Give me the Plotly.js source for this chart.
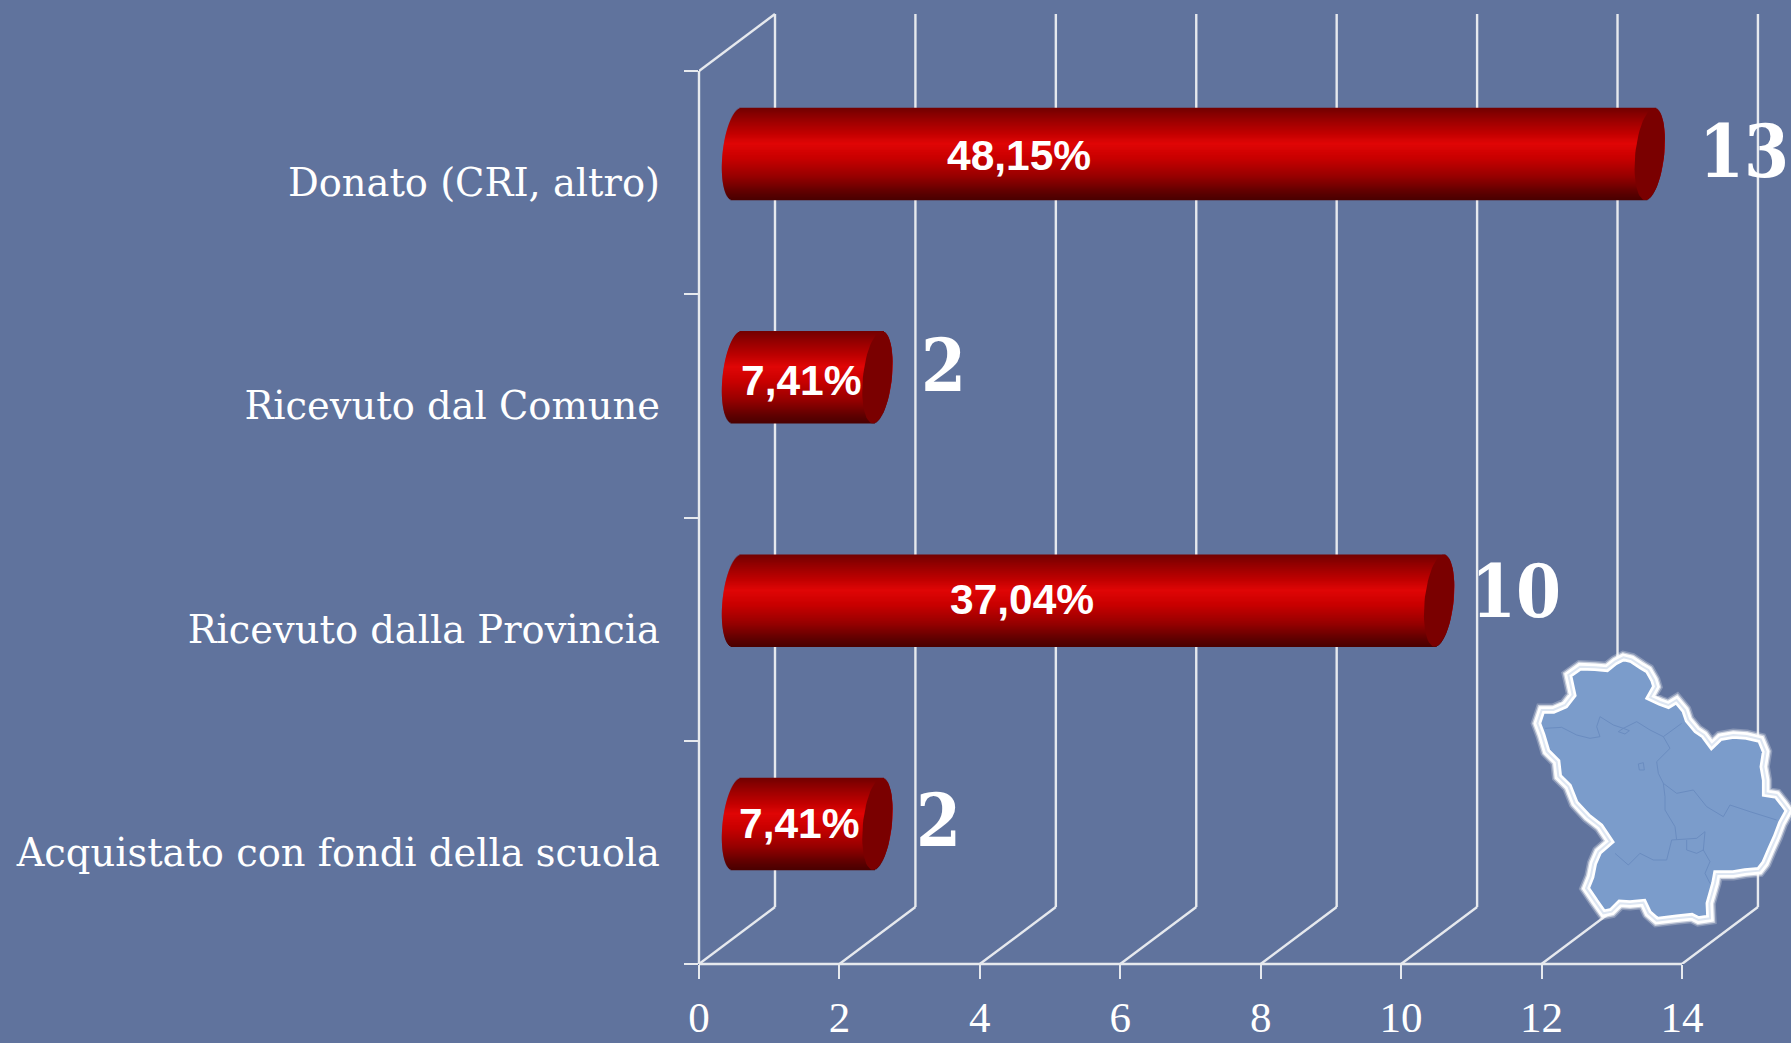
<!DOCTYPE html>
<html>
<head>
<meta charset="utf-8">
<script src="https://cdn.plot.ly/plotly-3.0.1.min.js"></script>
<style>html,body{margin:0;padding:0;background:#60739D;overflow:hidden}#chart{width:1791px;height:1043px}</style>
</head>
<body>
<div id="chart"></div>
<script>
// ---- data ----
const categories = ["Acquistato con fondi della scuola", "Ricevuto dalla Provincia", "Ricevuto dal Comune", "Donato (CRI, altro)"];
const counts = [2, 10, 2, 13];
const percents = ["7,41%", "37,04%", "7,41%", "48,15%"];
const xTicks = [0, 2, 4, 6, 8, 10, 12, 14];

// ---- label placement (pixels relative to the bar) ----
const countShiftX = [61, 77, 66, 94];
const countShiftY = [3, 9, 12, 3];
const pctX = [799, 1021.5, 801, 1019];
const pctShiftY = [0, 1, -3, -1];

// ---- geometry ----
const W = 1791, H = 1043;
const plotL = 699, plotR = 1768, plotT = 6, plotB = 964;
const pxX = 70.21, pxY = 223.25;
const depthX = 76 / pxX, depthY = 57 / pxY;
const xMax = (plotR - plotL) / pxX, yMax = (plotB - plotT) / pxY;
const barPx = 92, rx = 14.5, shear = 4.5;
const LINE = "#E6E9EE", TEXT = "#FFFFFF";
const gradStops = [[0,[0x72,0,0]],[0.12,[0x96,0,0]],[0.26,[0xBC,0,0]],[0.39,[0xE0,6,6]],[0.55,[0xC8,0,0]],[0.75,[0x96,0,0]],[0.92,[0x5E,0,0]],[1,[0x4A,0,0]]];

function gradAt(t){
  for(let i=1;i<gradStops.length;i++){
    if(t<=gradStops[i][0]){
      const a=gradStops[i-1],b=gradStops[i],f=(t-a[0])/(b[0]-a[0]);
      return "rgb("+a[1].map((c,k)=>Math.round(c+(b[1][k]-c)*f)).join(",")+")";
    }
  }
  return "rgb(74,0,0)";
}

const traces = [];
const barX0 = depthX / 2;
const barY = i => i + 0.5 + depthY / 2;

// cylinder bodies: one thin horizontal bar trace per shaded stripe
for(let s=0;s<barPx;s++){
  const t=(s+0.5)/barPx, u=1-2*t, r=Math.sqrt(1-u*u);
  const left=(-rx*r+shear*u)/pxX, right=(rx*r+shear*u)/pxX;
  traces.push({
    type:"bar", orientation:"h",
    x:counts.map(v=>v+right-left),
    base:counts.map(()=>barX0+left),
    y:counts.map((v,i)=>barY(i)+u*(barPx/2)/pxY),
    width:1.5/pxY,
    marker:{color:gradAt(t),line:{width:0}},
    hoverinfo:"skip",showlegend:false
  });
}
// cylinder end caps
counts.forEach((v,i)=>{
  const xs=[],ys=[];
  for(let a=0;a<=72;a++){
    const th=a/72*2*Math.PI, c=Math.cos(th), n=Math.sin(th);
    xs.push(v+barX0+(rx*c+shear*n)/pxX);
    ys.push(barY(i)+(barPx/2)*n/pxY);
  }
  traces.push({type:"scatter",mode:"lines",x:xs,y:ys,fill:"toself",fillcolor:"#7A0000",line:{width:0,color:"#7A0000"},hoverinfo:"skip",showlegend:false});
});
// carrier for the boundary tick axis
traces.push({type:"scatter",mode:"none",x:[0],y:[0],yaxis:"y2",hoverinfo:"skip",showlegend:false});

// ---- wall lines ----
const shapes = [];
const LW = 2.4;
const seg=(x0,y0,x1,y1)=>shapes.push({type:"line",xref:"x",yref:"y",x0,y0,x1,y1,layer:"below",line:{color:LINE,width:LW}});
xTicks.forEach(v=>{
  seg(v,0,v+depthX,depthY);
  seg(v+depthX,depthY,v+depthX,categories.length+depthY);
});
seg(0,categories.length,depthX,categories.length+depthY);
shapes.push({type:"line",xref:"paper",yref:"y",x0:0,x1:0,y0:0,y1:categories.length,layer:"below",line:{color:LINE,width:LW}});
shapes.push({type:"line",xref:"x",yref:"paper",x0:0,x1:xTicks[xTicks.length-1],y0:0,y1:0,layer:"below",line:{color:LINE,width:LW}});

// ---- regional map decoration (Basilicata), in reference pixels ----
const mapOutline=[[370,112],[395,118],[425,138],[445,150],[462,180],[468,200],[450,232],[480,246],[505,255],[530,240],[555,270],[565,300],[590,330],[612,345],[635,376],[660,352],[700,345],[740,348],[782,358],[797,395],[790,440],[797,480],[797,520],[830,525],[850,550],[866,572],[845,610],[830,650],[812,690],[795,730],[778,752],[735,756],[700,762],[650,762],[645,790],[628,850],[630,895],[595,900],[575,890],[530,895],[470,902],[445,880],[430,848],[390,852],[360,850],[335,875],[310,880],[285,845],[258,805],[272,770],[280,730],[295,695],[330,665],[300,620],[262,590],[225,550],[205,500],[175,470],[170,425],[140,395],[125,345],[112,310],[125,270],[160,270],[195,255],[218,225],[205,165],[240,140],[285,142],[320,145],[345,125]];
const mapInner=[
 [[135,325],[185,322],[230,345],[270,355],[300,350],[290,320],[300,290],[340,315],[370,325],[410,305],[450,330],[490,350],[545,310]],
 [[490,350],[510,385],[470,425],[475,460],[490,490],[495,530],[495,570],[525,620],[530,660]],
 [[490,490],[530,520],[580,510],[620,560],[670,590],[690,555],[750,575],[830,600]],
 [[345,700],[385,735],[420,700],[460,720],[500,720],[515,660],[590,655],[615,635],[610,690],[630,725],[615,760],[630,790]],
 [[560,660],[560,690],[590,700],[610,690]],
 [[355,335],[370,325],[388,332],[375,342],[355,335]],
 [[415,432],[430,428],[433,450],[418,450],[415,432]]
];
const mpx=p=>{
  const X=1500+p[0]/3, Y=620+p[1]/3;
  return ((X-plotL)/(plotR-plotL)).toFixed(5)+" "+((plotB-Y)/(plotB-plotT)).toFixed(5);
};
const mapPath=pts=>"M "+pts.map(mpx).join(" L ");
const outlinePath=mapPath(mapOutline)+" Z";
const mapShape=(path,fill,color,width,op)=>shapes.push({type:"path",xref:"paper",yref:"paper",path,fillcolor:fill,layer:"above",opacity:op,line:{color,width}});
mapShape(outlinePath,"rgba(0,0,0,0)","#FFFFFF",13,0.25);
mapShape(outlinePath,"rgba(0,0,0,0)","#FFFFFF",10,0.55);
mapShape(outlinePath,"#7B9CCB","#FFFFFF",7.5,1);
mapShape(outlinePath,"rgba(0,0,0,0)","#D5E0F0",2,0.8);
mapInner.forEach(l=>mapShape(mapPath(l),"rgba(0,0,0,0)","#6A8CC0",1,1));

// ---- annotations ----
const annotations=[];
counts.forEach((v,i)=>{
  annotations.push({xref:"x",yref:"y",x:v+barX0,y:barY(i),text:"<b>"+v+"</b>",showarrow:false,xanchor:"center",yanchor:"middle",
    xshift:countShiftX[i],yshift:countShiftY[i],font:{family:"'DejaVu Serif Condensed','DejaVu Serif',serif",size:72,color:TEXT}});
  annotations.push({xref:"x",yref:"y",x:(pctX[i]-plotL)/pxX,y:barY(i),text:"<b>"+percents[i]+"</b>",showarrow:false,xanchor:"center",yanchor:"middle",
    yshift:pctShiftY[i],font:{family:"'Liberation Sans',Arial,sans-serif",size:42.5,color:TEXT}});
});

const layout={
  width:W,height:H,autosize:false,
  margin:{l:plotL,r:W-plotR,t:plotT,b:H-plotB,pad:0},
  paper_bgcolor:"#60739D",plot_bgcolor:"rgba(0,0,0,0)",
  barmode:"overlay",showlegend:false,
  xaxis:{range:[0,xMax],tickmode:"array",tickvals:xTicks,ticktext:xTicks.map(String),showgrid:false,zeroline:false,showline:false,
    ticks:"outside",ticklen:14,tickwidth:2,tickcolor:LINE,ticklabelstandoff:1,
    tickfont:{family:"'Liberation Serif',serif",size:43,color:TEXT}},
  yaxis:{range:[0,yMax],tickmode:"array",tickvals:categories.map((c,i)=>i+0.5),ticktext:categories,showgrid:false,zeroline:false,showline:false,
    ticks:"",ticklabelstandoff:38,
    tickfont:{family:"'DejaVu Serif',serif",size:38.4,color:TEXT}},
  yaxis2:{overlaying:"y",side:"left",anchor:"x",range:[0,yMax],tickmode:"array",tickvals:categories.map((c,i)=>i).concat([categories.length]),
    showticklabels:false,showgrid:false,zeroline:false,showline:false,ticks:"outside",ticklen:14,tickwidth:2,tickcolor:LINE},
  shapes,annotations
};
Plotly.newPlot("chart",traces,layout,{displayModeBar:false,staticPlot:true});
</script>
</body>
</html>
